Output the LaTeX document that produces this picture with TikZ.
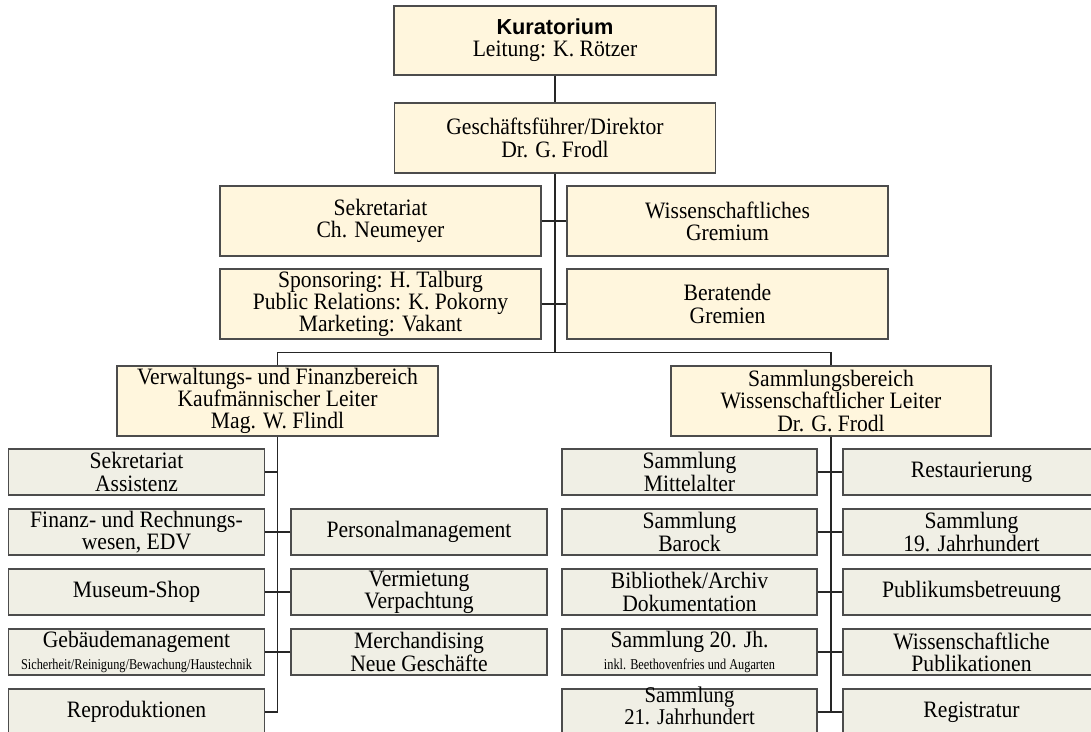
\documentclass[tikz,border=0pt]{standalone}
\usepackage{fontspec}
\setmainfont[FakeStretch=0.92]{Liberation Serif}
\newfontfamily\kurfont{Liberation Sans}
\newfontfamily\kleinfont[FakeStretch=0.82]{Liberation Serif}
\usetikzlibrary{positioning}
\definecolor{topfill}{HTML}{FFF6DD}
\definecolor{subfill}{HTML}{F0EFE5}
\newcommand\klein{\kleinfont\fontsize{15}{15}\selectfont}

\begin{document}
\begin{tikzpicture}[x=1pt,y=-1pt,
		box/.style={draw=black!70,line width=1.3pt,fill=topfill,inner sep=0pt,align=center,
			minimum width=321pt,minimum height=70pt,font=\fontsize{23.5}{22.3}\selectfont},
		subbox/.style={box,fill=subfill,minimum width=256pt,minimum height=46pt},
		link/.style={black!85,line width=1.3pt}]
		\useasboundingbox (0,0) rectangle (1091,731);
		\clip (0,0) rectangle (1091,731);

		% Leitung
		\node [box,minimum width=322pt,minimum height=69pt] (kur) at (555,40.5) {{\kurfont\bfseries\fontsize{21.7}{22}\selectfont Kuratorium}\\Leitung: K. Rötzer};
		\node [box] (gf) at (555,138) {Geschäftsführer/Direktor\\Dr. G. Frodl};
		\node [box] (sek) at (380.5,221) {Sekretariat\\Ch. Neumeyer};
		\node [box] (wiss) at (727.5,221) {Wissenschaftliches\\Gremium};
		\node [box] (spon) at (380.5,304) {Sponsoring: H. Talburg\\Public Relations: K. Pokorny\\Marketing: Vakant};
		\node [box] (ber) at (727.5,304) {Beratende\\Gremien};
		\node [box] (verw) at (277.5,401) {Verwaltungs- und Finanzbereich\\Kaufmännischer Leiter\\Mag. W. Flindl};
		\node [box,minimum width=320pt] (samm) at (831,401) {Sammlungsbereich\\Wissenschaftlicher Leiter\\Dr. G. Frodl};
		\coordinate (bus) at (555,352.5);

		\draw [link] (kur) -- (gf);
		\draw [link] (gf.south) -- (bus);
		\draw [link] (sek.east) -- (wiss.west);
		\draw [link] (spon.east) -- (ber.west);
		\draw [link] (verw.north) |- (bus) -| (samm.north);

		% Verwaltung
		\node [subbox] (sekas) at (136.5,472) {Sekretariat\\Assistenz};
		\node [subbox] (fin) at (136.5,532) {Finanz- und Rechnungs-\\wesen, EDV};
		\node [subbox] (shop) at (136.5,592) {Museum-Shop};
		\node [subbox] (geb) at (136.5,652) {Gebäudemanagement\\{\klein Sicherheit/Reinigung/Bewachung/Haustechnik}};
		\node [subbox] (repro) at (136.5,712) {Reproduktionen};
		\node [subbox] (pers) at (419,532) {Personalmanagement};
		\node [subbox] (verm) at (419,592) {Vermietung\\Verpachtung};
		\node [subbox] (merch) at (419,652) {Merchandising\\Neue Geschäfte};

		\draw [link] (verw.south) -- (verw.south |- repro.east);
		\foreach \a in {sekas,fin,shop,geb,repro}
			\draw [link] (\a.east) -- (\a.east -| verw.south);
		\foreach \a in {pers,verm,merch}
			\draw [link] (\a.west) -- (\a.west -| verw.south);

		% Sammlung
		\node [subbox,minimum width=255pt] (mitt) at (689.5,472) {Sammlung\\Mittelalter};
		\node [subbox,minimum width=255pt] (bar) at (689.5,532) {Sammlung\\Barock};
		\node [subbox,minimum width=255pt] (bib) at (689.5,592) {Bibliothek/Archiv\\Dokumentation};
		\node [subbox,minimum width=255pt] (zwan) at (689.5,652) {Sammlung 20. Jh.\\{\klein inkl. Beethovenfries und Augarten}};
		\node [subbox,minimum width=255pt,font=\fontsize{22.5}{18.5}\selectfont,text height=35pt,text depth=11pt] (einu) at (689.5,712) {Sammlung\\21. Jahrhundert};
		\node [subbox,minimum width=257pt] (rest) at (971.5,472) {Restaurierung};
		\node [subbox,minimum width=257pt] (neun) at (971.5,532) {Sammlung\\19. Jahrhundert};
		\node [subbox,minimum width=257pt] (pub) at (971.5,592) {Publikumsbetreuung};
		\node [subbox,minimum width=257pt] (wpub) at (971.5,652) {Wissenschaftliche\\Publikationen};
		\node [subbox,minimum width=257pt] (reg) at (971.5,712) {Registratur};

		\draw [link] (samm.south) -- (samm.south |- reg.west);
		\foreach \a/\b in {mitt/rest,bar/neun,bib/pub,zwan/wpub,einu/reg}
			\draw [link] (\a.east) -- (\b.west);

\end{tikzpicture}
\end{document}
